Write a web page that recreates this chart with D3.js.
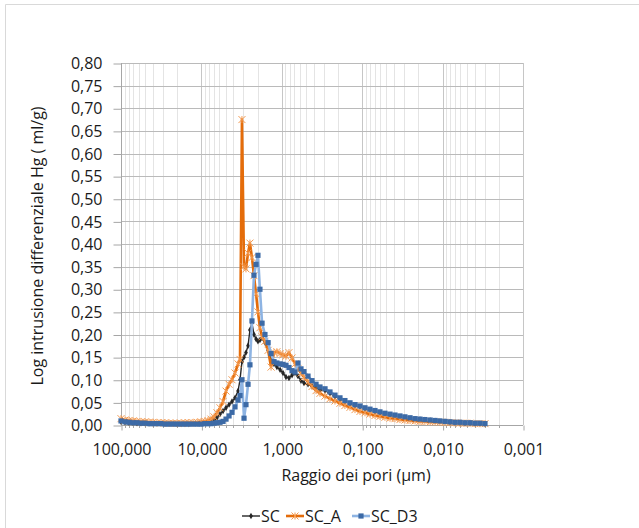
<!DOCTYPE html>
<html><head><meta charset="utf-8">
<script src="https://cdn.jsdelivr.net/npm/d3@7"></script>
<style>
body{margin:0;background:#fff;}
svg{display:block;font-family:'Open Sans',sans-serif;}
</style>
</head><body>
<svg id="chart" width="639" height="528"></svg>
<script>
// Pore radius (µm)
const radius = [100, 89.2, 79.5, 70.9, 63.2, 56.4, 50.3, 44.8, 40.0, 35.7, 31.8, 28.4, 25.3, 22.5, 20.1, 17.9, 16.0, 14.3, 12.7, 11.3, 10.1, 9.02,
  8.28, 7.60, 6.97, 6.40, 5.87, 5.38, 4.94, 4.53, 4.16, 3.82, 3.50,
  3.31, 3.13, 2.95, 2.79, 2.63, 2.49, 2.35, 2.22, 2.09, 1.98, 1.87, 1.76,
  1.62, 1.48, 1.36, 1.25, 1.15, 1.05, 0.966, 0.887, 0.814, 0.746, 0.685, 0.629, 0.577, 0.530,
  0.472, 0.421, 0.375, 0.335,
  0.290, 0.2515, 0.218, 0.189, 0.164, 0.1418, 0.1229, 0.1065, 0.0923, 0.0800, 0.0693, 0.0601, 0.0521, 0.0451, 0.0391, 0.0339, 0.0294, 0.0254, 0.0220, 0.0191, 0.0166, 0.0143, 0.0124, 0.0108, 0.00933, 0.00809, 0.00701, 0.00608, 0.00527, 0.00456, 0.00395, 0.00343, 0.00297];

const SC = [0.007, 0.006, 0.005, 0.005, 0.004, 0.004, 0.004, 0.003, 0.003, 0.003, 0.003, 0.003, 0.003, 0.003, 0.002, 0.002, 0.002, 0.002, 0.003, 0.003, 0.003, 0.004,
  0.005, 0.007, 0.010, 0.016, 0.024, 0.031, 0.038, 0.045, 0.052, 0.060, 0.075,
  0.100, 0.140, 0.150, 0.160, 0.175, 0.210, 0.225, 0.200, 0.190, 0.185, 0.188, 0.192,
  0.182, 0.165, 0.150, 0.135, 0.128, 0.122, 0.115, 0.106, 0.104, 0.110, 0.115, 0.108, 0.098, 0.093,
  0.090, 0.086, 0.082, 0.078,
  0.076, 0.070, 0.063, 0.057, 0.052, 0.047, 0.043, 0.040, 0.036, 0.033, 0.030, 0.027, 0.024, 0.022, 0.020, 0.018, 0.016, 0.014, 0.013, 0.012, 0.011, 0.010, 0.009, 0.008, 0.007, 0.006, 0.005, 0.005, 0.004, 0.004, 0.003, 0.003, 0.002];

const SC_A = [0.014, 0.011, 0.010, 0.009, 0.008, 0.007, 0.007, 0.006, 0.006, 0.005, 0.005, 0.005, 0.004, 0.004, 0.004, 0.004, 0.005, 0.005, 0.005, 0.006, 0.007, 0.008,
  0.010, 0.013, 0.018, 0.027, 0.038, 0.052, 0.075, 0.090, 0.100, 0.115, 0.135,
  0.145, 0.675, 0.350, 0.345, 0.380, 0.402, 0.370, 0.330, 0.290, 0.250, 0.215, 0.195,
  0.185, 0.165, 0.128, 0.160, 0.162, 0.158, 0.155, 0.152, 0.160, 0.148, 0.135, 0.125, 0.115, 0.106,
  0.095, 0.085, 0.076, 0.070,
  0.064, 0.058, 0.053, 0.048, 0.043, 0.039, 0.034, 0.030, 0.027, 0.024, 0.021, 0.019, 0.017, 0.015, 0.014, 0.012, 0.011, 0.010, 0.009, 0.008, 0.008, 0.007, 0.007, 0.006, 0.006, 0.005, 0.005, 0.004, 0.004, 0.004, 0.003, 0.003, 0.003];

const SC_D3 = [0.009, 0.007, 0.006, 0.005, 0.005, 0.004, 0.004, 0.003, 0.003, 0.003, 0.003, 0.002, 0.002, 0.002, 0.002, 0.002, 0.002, 0.002, 0.002, 0.002, 0.002, 0.003,
  0.003, 0.003, 0.004, 0.005, 0.006, 0.008, 0.013, 0.020, 0.028, 0.040, 0.055,
  0.065, 0.100, 0.015, 0.045, 0.090, 0.133, 0.230, 0.331, 0.355, 0.375, 0.300, 0.225,
  0.200, 0.182, 0.158, 0.140, 0.137, 0.135, 0.134, 0.132, 0.127, 0.120, 0.117, 0.137, 0.124, 0.118,
  0.108, 0.098, 0.090, 0.084,
  0.080, 0.073, 0.066, 0.060, 0.054, 0.049, 0.045, 0.042, 0.038, 0.035, 0.032, 0.029, 0.026, 0.024, 0.022, 0.020, 0.018, 0.016, 0.014, 0.013, 0.012, 0.011, 0.010, 0.009, 0.008, 0.007, 0.006, 0.006, 0.005, 0.005, 0.004, 0.004, 0.003];

const seriesNames = ["SC", "SC_A", "SC_D3"];
const xTicks = [100, 10, 1, 0.1, 0.01, 0.001];
const xTickLabels = ["100,000", "10,000", "1,000", "0,100", "0,010", "0,001"];
const yTicks = [0, 0.05, 0.10, 0.15, 0.20, 0.25, 0.30, 0.35, 0.40, 0.45, 0.50, 0.55, 0.60, 0.65, 0.70, 0.75, 0.80];
const xTitle = "Raggio dei pori (μm)";
const yTitle = "Log intrusione differenziale Hg ( ml/g)";

const svg = d3.select("#chart");
const L = 121, R = 523, T = 63, B = 425;
const FS = "16px";
const x = d3.scaleLog().domain([100, 0.001]).range([L, R]);
const y = d3.scaleLinear().domain([0, 0.8]).range([B, T]);

// outer frame
svg.append("path").attr("d", "M5.5,528 V4.5 H639").attr("fill", "none").attr("stroke", "#d9d9d9");

// minor vertical gridlines
const minor = [];
for (let k = -3; k <= 1; k++) for (let m = 2; m <= 9; m++) minor.push(m * Math.pow(10, k));
svg.append("g").selectAll("line").data(minor).join("line")
  .attr("x1", d => Math.round(x(d)) + 0.5).attr("x2", d => Math.round(x(d)) + 0.5)
  .attr("y1", T).attr("y2", B).attr("stroke", "#e4e4e4").attr("stroke-width", 1);
// major vertical gridlines
svg.append("g").selectAll("line").data(xTicks).join("line")
  .attr("x1", d => Math.round(x(d)) + 0.5).attr("x2", d => Math.round(x(d)) + 0.5)
  .attr("y1", T).attr("y2", B).attr("stroke", "#c6c6c6").attr("stroke-width", 1);
// horizontal gridlines
svg.append("g").selectAll("line").data(yTicks).join("line")
  .attr("x1", L).attr("x2", R)
  .attr("y1", d => Math.round(y(d)) + 0.5).attr("y2", d => Math.round(y(d)) + 0.5)
  .attr("stroke", "#bababa").attr("stroke-width", 1);

// y axis
const yAxis = d3.axisLeft(y).tickValues(yTicks).tickSize(8).tickPadding(11)
  .tickFormat(d => d3.format(".2f")(d).replace(".", ","));
const gy = svg.append("g").attr("transform", `translate(${L + 0.5},0.5)`).call(yAxis);
gy.select(".domain").attr("stroke", "#a6a6a6").attr("d", `M0,${T - 0.5}V${B - 0.5}`);
gy.selectAll(".tick line").attr("stroke", "#a6a6a6");
gy.selectAll(".tick text").attr("fill", "#1a1a1a").style("font-size", FS).style("font-family", "'Open Sans',sans-serif");

// x axis
const xAxis = d3.axisBottom(x).tickValues(xTicks).tickSize(5).tickPadding(13)
  .tickFormat((d, i) => xTickLabels[i]);
const gx = svg.append("g").attr("transform", `translate(0.5,${B + 0.5})`).call(xAxis);
gx.select(".domain").attr("stroke", "#a6a6a6").attr("d", `M${L - 0.5},0H${R - 0.5}`);
gx.selectAll(".tick line").attr("stroke", "#a6a6a6");
gx.selectAll(".tick text").attr("fill", "#1a1a1a").style("font-size", FS).style("font-family", "'Open Sans',sans-serif");
// minor ticks on x axis
svg.append("g").selectAll("line").data(minor).join("line")
  .attr("x1", d => Math.round(x(d)) + 0.5).attr("x2", d => Math.round(x(d)) + 0.5)
  .attr("y1", B).attr("y2", B + 3).attr("stroke", "#a6a6a6");

// titles
svg.append("text").attr("x", 356).attr("y", 481).attr("text-anchor", "middle")
  .style("font-size", FS).attr("fill", "#1a1a1a").text(xTitle);
svg.append("text").attr("transform", "translate(43,246) rotate(-90)").attr("text-anchor", "middle")
  .style("font-size", FS).attr("fill", "#1a1a1a").text(yTitle);

// series
const styles = {
  SC: {values: SC, line: "#262626", width: 1.4, marker: "diamond", mfill: "#262626", mstroke: "#262626"},
  SC_A: {values: SC_A, line: "#e46c0a", width: 2.6, marker: "star", mfill: "none", mstroke: "#f49a50"},
  SC_D3: {values: SC_D3, line: "#8eb4e3", width: 2.6, marker: "square", mfill: "#3c6aa6", mstroke: "#3c6aa6"}
};

function drawMarker(g, type, cx, cy, s) {
  if (type === "square") {
    g.append("rect").attr("x", cx - 2.6).attr("y", cy - 2.6).attr("width", 5.2).attr("height", 5.2)
      .attr("fill", s.mfill);
  } else if (type === "diamond") {
    g.append("path").attr("d", d3.symbol().type(d3.symbolDiamond).size(12)())
      .attr("transform", `translate(${cx},${cy})`).attr("fill", s.mfill);
  } else if (type === "star") {
    const r = 3.5;
    g.append("path").attr("d", `M${cx - r},${cy - r}L${cx + r},${cy + r}M${cx - r},${cy + r}L${cx + r},${cy - r}M${cx},${cy - r}V${cy + r}`)
      .attr("stroke", s.mstroke).attr("stroke-width", 1).attr("fill", "none");
  }
}

const line = d3.line().x(d => x(d[0])).y(d => y(d[1]));
seriesNames.forEach(name => {
  const s = styles[name];
  const pts = radius.map((r, i) => [r, s.values[i]]);
  const g = svg.append("g");
  g.append("path").datum(pts).attr("d", line).attr("fill", "none")
    .attr("stroke", s.line).attr("stroke-width", s.width).attr("stroke-linejoin", "round");
  pts.forEach(p => drawMarker(g, s.marker, x(p[0]), y(p[1]), s));
});

// legend
const legendPos = {SC: 242, SC_A: 286, SC_D3: 352};
seriesNames.forEach(name => {
  const s = styles[name];
  const lx = legendPos[name], ly = 516;
  const g = svg.append("g");
  g.append("line").attr("x1", lx).attr("x2", lx + 18).attr("y1", ly).attr("y2", ly)
    .attr("stroke", s.line).attr("stroke-width", s.width);
  drawMarker(g, s.marker, lx + 9, ly, s);
  g.append("text").attr("x", lx + 19).attr("y", ly + 5.5).style("font-size", FS).attr("fill", "#1a1a1a").text(name);
});
</script>
</body></html>
